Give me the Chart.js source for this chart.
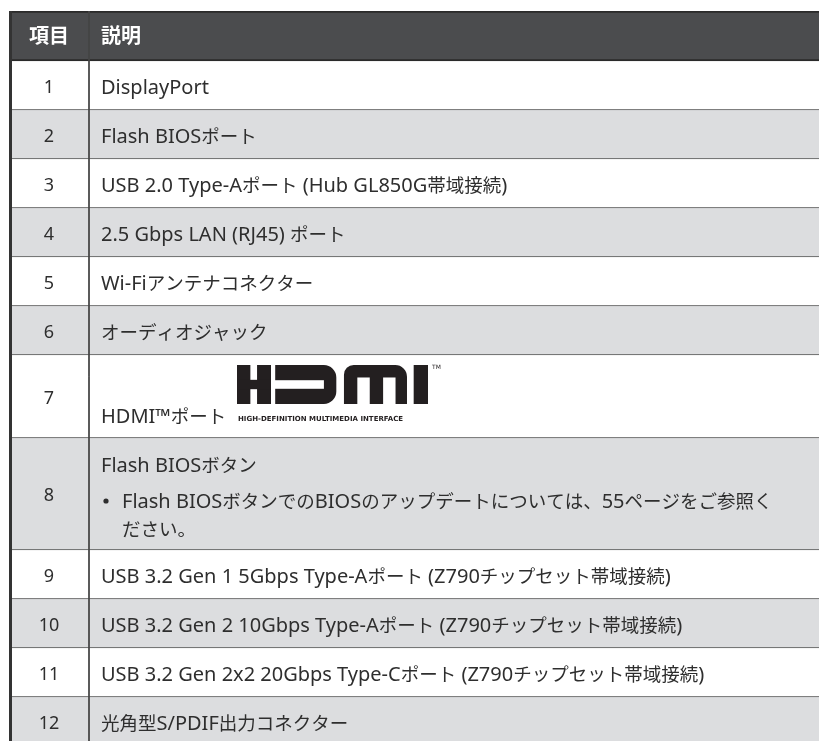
<!DOCTYPE html>
<html lang="ja">
<head>
<meta charset="utf-8">
<title>項目・説明</title>
<script src="https://cdn.jsdelivr.net/npm/chart.js@4"></script>
<style>
  html, body { margin: 0; padding: 0; background: #fff; }
  canvas { display: block; }
</style>
</head>
<body>
<canvas id="table" width="819" height="741"></canvas>
<script>
// table content
const headers = ['項目', '説明'];
const items = ['1', '2', '3', '4', '5', '6', '7', '8', '9', '10', '11', '12'];
const descriptions = [
  'DisplayPort',
  'Flash BIOSポート',
  'USB 2.0 Type-Aポート (Hub GL850G帯域接続)',
  '2.5 Gbps LAN (RJ45) ポート',
  'Wi-Fiアンテナコネクター',
  'オーディオジャック',
  'HDMI™ポート',
  'Flash BIOSボタン',
  'USB 3.2 Gen 1 5Gbps Type-Aポート (Z790チップセット帯域接続)',
  'USB 3.2 Gen 2 10Gbps Type-Aポート (Z790チップセット帯域接続)',
  'USB 3.2 Gen 2x2 20Gbps Type-Cポート (Z790チップセット帯域接続)',
  '光角型S/PDIF出力コネクター',
];
const noteLines = [
  'Flash BIOSボタンでのBIOSのアップデートについては、55ページをご参照く',
  'ださい。',
];
const hdmiTagline = 'HIGH-DEFINITION MULTIMEDIA INTERFACE';

// layout (px units on the y scale, offsets from the table's left edge on x2)
const HEAD_H = 50;
const ROW_H = [49, 49, 49, 49, 49, 49, 83, 112, 49, 49, 49, 49];
const LATIN = '"Noto Sans"';
const CJK = '"Noto Sans CJK JP"';
const TEXT = '#2e2e2e';
const CJK_RE = /[\u3000-\u30ff\u4e00-\u9fff\uff00-\uffef]/;

const tops = [];
let acc = HEAD_H;
ROW_H.forEach(h => { tops.push(acc); acc += h; });

const rowSets = items.map((item, i) => ({
  label: item,
  data: [[tops[i], tops[i] + ROW_H[i]]],
  backgroundColor: i % 2 ? '#dcdddf' : '#ffffff',
  borderColor: '#555555',
  borderWidth: { top: 0, right: 0, left: 0, bottom: 1 },
  borderSkipped: false,
  order: 2,
}));

const vline = (x, w, color) => ({
  type: 'line',
  xAxisID: 'x2',
  data: [{ x: x, y: 0 }, { x: x, y: 760 }],
  borderColor: color,
  borderWidth: w,
  pointRadius: 0,
  order: 0,
});

// draw a string switching font between latin and japanese runs
function drawRuns(ctx, text, px, py, weight, latinSize, cjkSize) {
  const parts = text.match(/[\u3000-\u30ff\u4e00-\u9fff\uff00-\uffef]+|[^\u3000-\u30ff\u4e00-\u9fff\uff00-\uffef]+/g);
  let cx = px;
  parts.forEach(p => {
    ctx.font = CJK_RE.test(p)
      ? weight + ' ' + cjkSize + 'px ' + CJK
      : weight + ' ' + latinSize + 'px ' + LATIN + ', ' + CJK;
    ctx.fillText(p, cx, py);
    cx += ctx.measureText(p).width;
  });
}

const cellText = {
  id: 'cellText',
  afterDatasetsDraw(chart) {
    const ctx = chart.ctx;
    const y = chart.scales.y;
    const x = chart.scales.x2;
    ctx.save();
    ctx.textBaseline = 'alphabetic';

    // header
    ctx.fillStyle = '#ffffff';
    ctx.font = 'bold 20px ' + CJK;
    ctx.textAlign = 'center';
    ctx.fillText(headers[0], x.getPixelForValue(40), y.getPixelForValue(HEAD_H / 2 + 7));
    ctx.textAlign = 'left';
    ctx.fillText(headers[1], x.getPixelForValue(92), y.getPixelForValue(HEAD_H / 2 + 7));

    ctx.fillStyle = TEXT;
    items.forEach((item, i) => {
      const mid = tops[i] + ROW_H[i] / 2;
      ctx.textAlign = 'center';
      ctx.font = '18px ' + LATIN;
      ctx.fillText(item, x.getPixelForValue(40), y.getPixelForValue(mid + 7));
      ctx.textAlign = 'left';
      const tx = x.getPixelForValue(92);
      if (i === 6) {
        drawRuns(ctx, descriptions[i], tx, y.getPixelForValue(tops[i] + 68), '', 20, 18.5);
        drawHdmi(ctx, x, y, tops[i]);
      } else if (i === 7) {
        drawRuns(ctx, descriptions[i], tx, y.getPixelForValue(tops[i] + 34), '', 20, 18.5);
        ctx.beginPath();
        ctx.arc(x.getPixelForValue(97), y.getPixelForValue(tops[i] + 63), 2.6, 0, Math.PI * 2);
        ctx.fill();
        const bx = x.getPixelForValue(113);
        drawRuns(ctx, noteLines[0], bx, y.getPixelForValue(tops[i] + 70), '', 20, 18.5);
        drawRuns(ctx, noteLines[1], bx, y.getPixelForValue(tops[i] + 98), '', 20, 18.5);
      } else {
        drawRuns(ctx, descriptions[i], tx, y.getPixelForValue(mid + 8), '', 20, 18.5);
      }
    });
    ctx.restore();
  },
};

// blocky HDMI word mark, boxed through the scales
function drawHdmi(ctx, x, y, top) {
  const L = x.getPixelForValue(228);
  const R = x.getPixelForValue(419);
  const T = y.getPixelForValue(top + 10);
  const B = y.getPixelForValue(top + 49);
  const w = R - L, h = B - T;
  const u = v => L + v * w;
  ctx.save();
  ctx.fillStyle = '#231f20';
  // H
  ctx.fillRect(u(0), T, u(0.07) - u(0), h);
  ctx.fillRect(u(0.105), T, u(0.178) - u(0.105), h);
  ctx.fillRect(u(0), T + h * 0.38, u(0.178) - u(0), h * 0.24);
  // D: slot opens to the left
  ctx.beginPath();
  ctx.moveTo(u(0.2), T);
  ctx.lineTo(u(0.47), T);
  ctx.arcTo(u(0.52), T, u(0.52), T + h * 0.5, h * 0.32);
  ctx.arcTo(u(0.52), B, u(0.47), B, h * 0.32);
  ctx.lineTo(u(0.2), B);
  ctx.closePath();
  ctx.fill();
  ctx.fillStyle = '#ffffff';
  ctx.fillRect(u(0.2) - 1, T + h * 0.39, u(0.455) - u(0.2) + 1, h * 0.22);
  ctx.fillStyle = '#231f20';
  // M
  ctx.beginPath();
  ctx.moveTo(u(0.56), B);
  ctx.lineTo(u(0.56), T + h * 0.25);
  ctx.arcTo(u(0.56), T, u(0.62), T, h * 0.25);
  ctx.lineTo(u(0.84), T);
  ctx.arcTo(u(0.89), T, u(0.89), T + h * 0.3, h * 0.3);
  ctx.lineTo(u(0.89), B);
  ctx.closePath();
  ctx.fill();
  ctx.fillStyle = '#ffffff';
  ctx.fillRect(u(0.63), T + h * 0.32, u(0.695) - u(0.63), h * 0.68 + 1);
  ctx.fillRect(u(0.765), T + h * 0.32, u(0.83) - u(0.765), h * 0.68 + 1);
  ctx.fillStyle = '#231f20';
  // I
  ctx.fillRect(u(0.925), T, u(1) - u(0.925), h);
  // TM and tag line
  ctx.textAlign = 'left';
  ctx.textBaseline = 'middle';
  ctx.font = '6px "DejaVu Sans"';
  ctx.fillText('TM', R + 4, T + 2);
  ctx.font = 'bold 7px "DejaVu Sans"';
  ctx.fillText(hdmiTagline, L + 1, y.getPixelForValue(top + 64), w);
  ctx.restore();
}

new Chart(document.getElementById('table').getContext('2d'), {
  type: 'bar',
  data: {
    labels: ['table'],
    datasets: [
      vline(80, 1, '#444444'),
      vline(1.5, 3, '#333333'),
      {
        label: 'header',
        data: [[0, HEAD_H]],
        backgroundColor: '#4b4c4e',
        borderColor: '#2a2a2a',
        borderWidth: { top: 2, right: 0, left: 0, bottom: 2 },
        borderSkipped: false,
        order: 1,
      },
      ...rowSets,
    ],
  },
  options: {
    responsive: false,
    animation: false,
    events: [],
    layout: { padding: { left: 9, top: 11, right: 0, bottom: 0 } },
    datasets: { bar: { grouped: false, barPercentage: 1, categoryPercentage: 1 } },
    scales: {
      x: { type: 'category', display: false },
      x2: { type: 'linear', min: 0, max: 810, offset: false, display: false },
      y: { type: 'linear', min: 0, max: 730, reverse: true, display: false },
    },
    plugins: { legend: { display: false }, tooltip: { enabled: false } },
  },
  plugins: [cellText],
});
</script>
</body>
</html>
